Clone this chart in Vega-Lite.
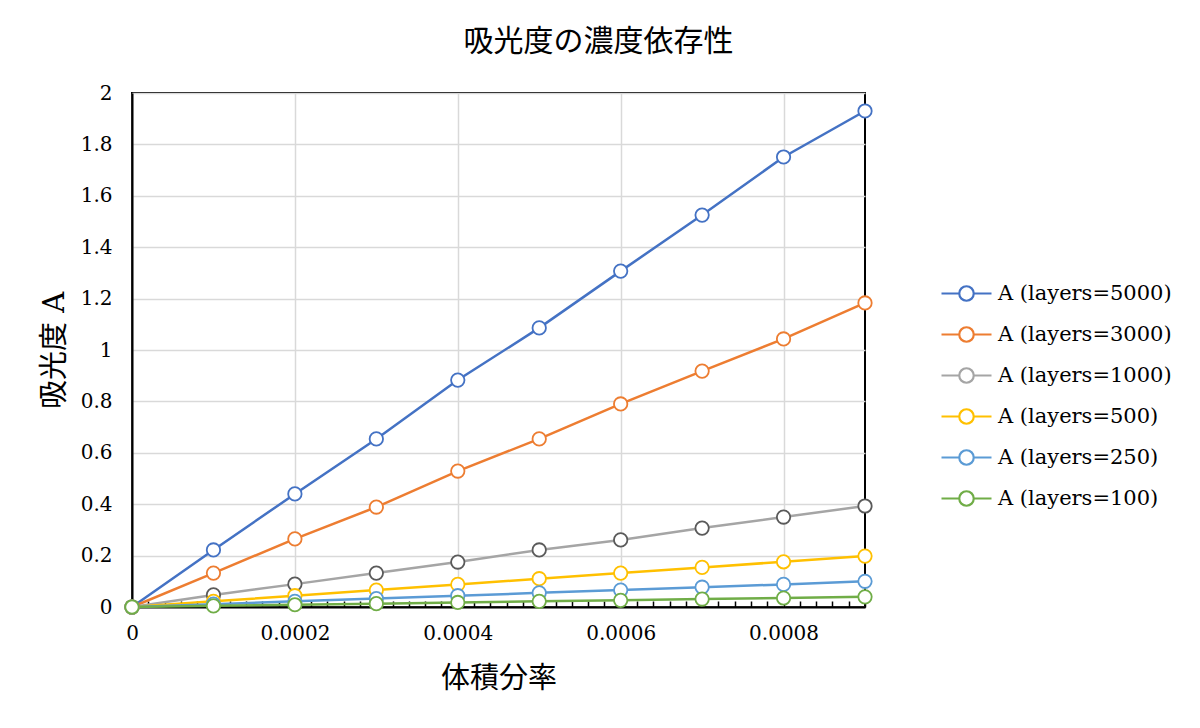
{
  "$schema": "https://vega.github.io/schema/vega-lite/v6.json",
  "autosize": {"type": "none"},
  "padding": {"left": 132, "top": 93, "right": 335, "bottom": 121},
  "width": 733,
  "height": 514,
  "background": "white",
  "title": {
    "text": "吸光度の濃度依存性",
    "anchor": "middle",
    "dx": 100,
    "offset": 26,
    "fontSize": 30,
    "fontWeight": "normal",
    "color": "#000000"
  },
  "data": {
    "values": [
      {"x": 0, "A": 0, "series": "A (layers=5000)"},
      {"x": 0.0001, "A": 0.222, "series": "A (layers=5000)"},
      {"x": 0.0002, "A": 0.44, "series": "A (layers=5000)"},
      {"x": 0.0003, "A": 0.654, "series": "A (layers=5000)"},
      {"x": 0.0004, "A": 0.883, "series": "A (layers=5000)"},
      {"x": 0.0005, "A": 1.086, "series": "A (layers=5000)"},
      {"x": 0.0006, "A": 1.307, "series": "A (layers=5000)"},
      {"x": 0.0007, "A": 1.525, "series": "A (layers=5000)"},
      {"x": 0.0008, "A": 1.751, "series": "A (layers=5000)"},
      {"x": 0.0009, "A": 1.93, "series": "A (layers=5000)"},
      {"x": 0, "A": 0, "series": "A (layers=3000)"},
      {"x": 0.0001, "A": 0.132, "series": "A (layers=3000)"},
      {"x": 0.0002, "A": 0.265, "series": "A (layers=3000)"},
      {"x": 0.0003, "A": 0.389, "series": "A (layers=3000)"},
      {"x": 0.0004, "A": 0.529, "series": "A (layers=3000)"},
      {"x": 0.0005, "A": 0.654, "series": "A (layers=3000)"},
      {"x": 0.0006, "A": 0.79, "series": "A (layers=3000)"},
      {"x": 0.0007, "A": 0.918, "series": "A (layers=3000)"},
      {"x": 0.0008, "A": 1.043, "series": "A (layers=3000)"},
      {"x": 0.0009, "A": 1.183, "series": "A (layers=3000)"},
      {"x": 0, "A": 0, "series": "A (layers=1000)"},
      {"x": 0.0001, "A": 0.047, "series": "A (layers=1000)"},
      {"x": 0.0002, "A": 0.089, "series": "A (layers=1000)"},
      {"x": 0.0003, "A": 0.132, "series": "A (layers=1000)"},
      {"x": 0.0004, "A": 0.175, "series": "A (layers=1000)"},
      {"x": 0.0005, "A": 0.222, "series": "A (layers=1000)"},
      {"x": 0.0006, "A": 0.261, "series": "A (layers=1000)"},
      {"x": 0.0007, "A": 0.307, "series": "A (layers=1000)"},
      {"x": 0.0008, "A": 0.35, "series": "A (layers=1000)"},
      {"x": 0.0009, "A": 0.393, "series": "A (layers=1000)"},
      {"x": 0, "A": 0, "series": "A (layers=500)"},
      {"x": 0.0001, "A": 0.022, "series": "A (layers=500)"},
      {"x": 0.0002, "A": 0.044, "series": "A (layers=500)"},
      {"x": 0.0003, "A": 0.066, "series": "A (layers=500)"},
      {"x": 0.0004, "A": 0.088, "series": "A (layers=500)"},
      {"x": 0.0005, "A": 0.11, "series": "A (layers=500)"},
      {"x": 0.0006, "A": 0.132, "series": "A (layers=500)"},
      {"x": 0.0007, "A": 0.154, "series": "A (layers=500)"},
      {"x": 0.0008, "A": 0.176, "series": "A (layers=500)"},
      {"x": 0.0009, "A": 0.198, "series": "A (layers=500)"},
      {"x": 0, "A": 0, "series": "A (layers=250)"},
      {"x": 0.0001, "A": 0.011, "series": "A (layers=250)"},
      {"x": 0.0002, "A": 0.022, "series": "A (layers=250)"},
      {"x": 0.0003, "A": 0.033, "series": "A (layers=250)"},
      {"x": 0.0004, "A": 0.044, "series": "A (layers=250)"},
      {"x": 0.0005, "A": 0.055, "series": "A (layers=250)"},
      {"x": 0.0006, "A": 0.066, "series": "A (layers=250)"},
      {"x": 0.0007, "A": 0.077, "series": "A (layers=250)"},
      {"x": 0.0008, "A": 0.088, "series": "A (layers=250)"},
      {"x": 0.0009, "A": 0.1, "series": "A (layers=250)"},
      {"x": 0, "A": 0, "series": "A (layers=100)"},
      {"x": 0.0001, "A": 0.0044, "series": "A (layers=100)"},
      {"x": 0.0002, "A": 0.0088, "series": "A (layers=100)"},
      {"x": 0.0003, "A": 0.013, "series": "A (layers=100)"},
      {"x": 0.0004, "A": 0.0176, "series": "A (layers=100)"},
      {"x": 0.0005, "A": 0.022, "series": "A (layers=100)"},
      {"x": 0.0006, "A": 0.026, "series": "A (layers=100)"},
      {"x": 0.0007, "A": 0.031, "series": "A (layers=100)"},
      {"x": 0.0008, "A": 0.035, "series": "A (layers=100)"},
      {"x": 0.0009, "A": 0.0395, "series": "A (layers=100)"}
    ]
  },
  "encoding": {
    "x": {
      "field": "x",
      "type": "quantitative",
      "title": "体積分率",
      "scale": {"domain": [0, 0.0009], "nice": false, "zero": true},
      "axis": {
        "values": [0, 0.00002, 0.00004, 0.00006, 0.00008, 0.0001, 0.00012, 0.00014, 0.00016, 0.00018, 0.0002, 0.00022, 0.00024, 0.00026, 0.00028, 0.0003, 0.00032, 0.00034, 0.00036, 0.00038, 0.0004, 0.00042, 0.00044, 0.00046, 0.00048, 0.0005, 0.00052, 0.00054, 0.00056, 0.00058, 0.0006, 0.00062, 0.00064, 0.00066, 0.00068, 0.0007, 0.00072, 0.00074, 0.00076, 0.00078, 0.0008, 0.00082, 0.00084, 0.00086, 0.00088, 0.0009],
        "labelExpr": "abs(datum.value / 0.0002 - round(datum.value / 0.0002)) < 0.001 ? format(datum.value, '~g') : ''",
        "labelOverlap": false,
        "labelFlush": false,
        "gridOpacity": {
          "condition": {"test": "abs(datum.value / 0.0002 - round(datum.value / 0.0002)) < 0.001", "value": 1},
          "value": 0
        },
        "tickSize": -6,
        "tickWidth": 1.5,
        "tickColor": "#000000",
        "labelPadding": 22,
        "titlePadding": 21
      }
    },
    "y": {
      "field": "A",
      "type": "quantitative",
      "title": "吸光度 A",
      "scale": {"domain": [0, 2], "nice": false},
      "axis": {
        "values": [0, 0.2, 0.4, 0.6, 0.8, 1, 1.2, 1.4, 1.6, 1.8, 2],
        "format": "~g",
        "ticks": false,
        "labelPadding": 20,
        "titlePadding": 11
      }
    }
  },
  "layer": [
    {
      "mark": {"type": "line", "strokeWidth": 2.5},
      "encoding": {
        "color": {
          "field": "series",
          "type": "nominal",
          "scale": {
            "domain": ["A (layers=5000)", "A (layers=3000)", "A (layers=1000)", "A (layers=500)", "A (layers=250)", "A (layers=100)"],
            "range": ["#4472C4", "#ED7D31", "#A5A5A5", "#FFC000", "#5B9BD5", "#70AD47"]
          },
          "legend": {
            "title": null,
            "orient": "none",
            "legendX": 808,
            "legendY": 180,
            "symbolType": "M-1,0L-0.29,0M0.29,0L1,0M-0.29,0A0.29,0.29,0,1,1,0.29,0A0.29,0.29,0,1,1,-0.29,0Z",
            "symbolSize": 2500,
            "symbolStrokeWidth": 2,
            "symbolFillColor": "white",
            "labelFontSize": 21,
            "labelColor": "#000000",
            "labelOffset": 5,
            "clipHeight": 41,
            "rowPadding": 0,
            "labelLimit": 400,
            "encode": {
              "symbols": {"update": {"fill": {"value": "white"}, "strokeWidth": {"value": 2.2}}}
            }
          }
        }
      }
    },
    {
      "mark": {"type": "point", "shape": "circle", "filled": false, "fill": "white", "fillOpacity": 1, "opacity": 1, "size": 180, "strokeWidth": 1.8},
      "encoding": {
        "stroke": {
          "field": "series",
          "type": "nominal",
          "scale": {
            "domain": ["A (layers=5000)", "A (layers=3000)", "A (layers=1000)", "A (layers=500)", "A (layers=250)", "A (layers=100)"],
            "range": ["#4472C4", "#ED7D31", "#5A5A5A", "#FFC000", "#5B9BD5", "#70AD47"]
          },
          "legend": null
        }
      }
    }
  ],
  "config": {
    "font": "DejaVu Serif, Noto Sans CJK JP",
    "view": {"stroke": "#000000", "strokeWidth": 2},
    "title": {"font": "DejaVu Serif, Noto Sans CJK JP"},
    "legend": {"labelFont": "DejaVu Serif, Noto Sans CJK JP"},
    "axis": {
      "domainColor": "#000000",
      "domainWidth": 2,
      "gridColor": "#D9D9D9",
      "gridWidth": 1.5,
      "labelFont": "DejaVu Serif, Noto Sans CJK JP",
      "labelFontSize": 20,
      "labelColor": "#000000",
      "titleFont": "DejaVu Serif, Noto Sans CJK JP",
      "titleFontSize": 29,
      "titleFontWeight": "normal",
      "titleColor": "#000000"
    }
  }
}
